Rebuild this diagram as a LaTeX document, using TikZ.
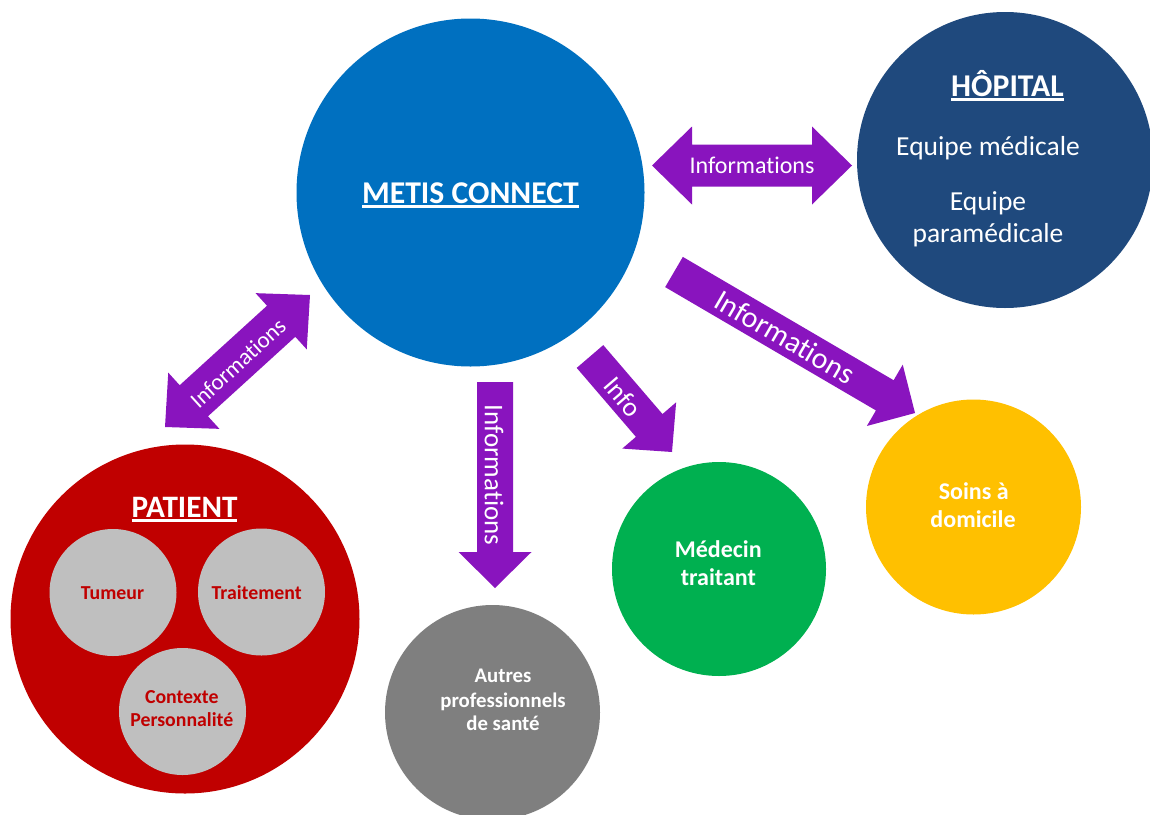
\documentclass[tikz,border=0pt]{standalone}
\usepackage{fontspec}
\setmainfont{Carlito}[Ligatures=NoCommon]
\usetikzlibrary{calc}
\definecolor{metisblue}{RGB}{0,112,192}
\definecolor{hopblue}{RGB}{31,73,125}
\definecolor{patred}{RGB}{192,0,0}
\definecolor{innergray}{RGB}{191,191,191}
\definecolor{autgray}{RGB}{127,127,127}
\definecolor{medgreen}{RGB}{0,176,80}
\definecolor{soinyellow}{RGB}{255,192,0}
\definecolor{arrowpurple}{RGB}{137,20,190}
\newcommand\fs[1]{\fontsize{#1}{#1}\selectfont}
% single block arrow: tail, tip, body half width, head half width, head length
\newcommand\singlearrow[5]{%
  \path ($(#2)!#5pt!(#1)$) coordinate (hb);
  \fill[arrowfill] ($(#1)!#3pt!90:(#2)$) -- ($(hb)!#3pt!90:(#2)$) -- ($(hb)!#4pt!90:(#2)$) -- (#2)
    -- ($(hb)!#4pt!-90:(#2)$) -- ($(hb)!#3pt!-90:(#2)$) -- ($(#1)!#3pt!-90:(#2)$) -- cycle;}
% double block arrow: tip A, tip B, body half width, head half width, head length
\newcommand\doublearrow[5]{%
  \path ($(#1)!#5pt!(#2)$) coordinate (ha) ($(#2)!#5pt!(#1)$) coordinate (hb);
  \fill[arrowfill] (#1) -- ($(ha)!#4pt!90:(#2)$) -- ($(ha)!#3pt!90:(#2)$) -- ($(hb)!#3pt!90:(#2)$)
    -- ($(hb)!#4pt!90:(#2)$) -- (#2) -- ($(hb)!#4pt!-90:(#2)$) -- ($(hb)!#3pt!-90:(#2)$)
    -- ($(ha)!#3pt!-90:(#2)$) -- ($(ha)!#4pt!-90:(#2)$) -- cycle;}
\begin{document}
\begin{tikzpicture}[x=1pt,y=1pt,
  arrowfill/.style={fill=arrowpurple},
  disc/.style={circle, inner sep=0pt, outer sep=0pt, minimum size=#1},
  lbl/.style={inner sep=0pt, outer sep=0pt, anchor=base, text=white},
  arrowlbl/.style={inner sep=0pt, outer sep=0pt, text=white},
  uline/.style={white, line width=2.4pt}]
\useasboundingbox (0,0) rectangle (1150,-814);
\clip (0,0) rectangle (1150,-814);
\fill[white] (0,0) rectangle (1150,-814);

% circles
\node[disc=348, fill=metisblue] (metis) at (470.5,-192.5) {};
\node[disc=296, fill=hopblue] (hopital) at (1005,-160) {};
\node[disc=349, fill=patred] (patient) at (185,-619) {};
\node[disc=127, fill=innergray] (tumeur) at (113,-592.5) {};
\node[disc=127, fill=innergray] (traitement) at (261.5,-592) {};
\node[disc=127, fill=innergray] (contexte) at (182.5,-711.5) {};
\node[disc=215, fill=autgray] (autres) at (492.5,-712.5) {};
\node[disc=214, fill=medgreen] (medecin) at (719,-569) {};
\node[disc=215, fill=soinyellow] (soins) at (973.5,-507) {};

% texts
\node[lbl, font=\bfseries\fs{31.7}] (metist) at (470.5,-203) {METIS CONNECT};
\draw[uline] ([yshift=-3.5pt]metist.base west) -- ([yshift=-3.5pt]metist.base east);
\node[lbl, font=\bfseries\fs{31.7}] (hopt) at (1007.5,-96) {HÔPITAL};
\draw[uline] ([yshift=-3.5pt]hopt.base west) -- ([yshift=-3.5pt]hopt.base east);
\node[lbl, font=\fs{27.5}] (hop1) at (988,-155) {Equipe médicale};
\node[lbl, font=\fs{27.5}] (hop2) at (988,-210) {Equipe};
\node[lbl, font=\fs{27.5}] (hop3) at (988,-242) {paramédicale};
\node[lbl, font=\bfseries\fs{31.2}] (patt) at (184.5,-517) {PATIENT};
\draw[uline] ([yshift=-3.5pt]patt.base west) -- ([yshift=-3.5pt]patt.base east);
\node[lbl, text=patred, font=\bfseries\fs{19.8}] (tumt) at (112.5,-599) {Tumeur};
\node[lbl, text=patred, font=\bfseries\fs{19.8}] (trat) at (256.7,-599) {Traitement};
\node[lbl, text=patred, font=\bfseries\fs{19.8}] (cont1) at (181.8,-703) {Contexte};
\node[lbl, text=patred, font=\bfseries\fs{19.8}] (cont2) at (181.8,-726) {Personnalité};
\node[lbl, font=\bfseries\fs{20.8}] (aut1) at (503,-682) {Autres};
\node[lbl, font=\bfseries\fs{20.8}] (aut2) at (503,-707) {professionnels};
\node[lbl, font=\bfseries\fs{20.8}] (aut3) at (503,-730) {de santé};
\node[lbl, font=\bfseries\fs{24}] (med1) at (718.3,-557) {Médecin};
\node[lbl, font=\bfseries\fs{24}] (med2) at (718.3,-585) {traitant};
\node[lbl, font=\bfseries\fs{24}] (soin1) at (973.7,-499) {Soins à};
\node[lbl, font=\bfseries\fs{24}] (soin2) at (973,-527) {domicile};

% block arrows
\coordinate (h1) at (652,-165.5);
\coordinate (h2) at (852,-165.5);
\doublearrow{h1}{h2}{21}{39}{40}
\node[arrowlbl, font=\fs{24}] (hlab) at ($(h1)!0.5!(h2)$) {Informations};

\coordinate (d1) at (165,-427);
\coordinate (d2) at (310,-295);
\doublearrow{d1}{d2}{21}{38}{39}
\node[arrowlbl, font=\fs{23}, rotate=42.3] (dlab) at (238,-363) {Informations};

\coordinate (v1) at (495,-382);
\coordinate (v2) at (495,-588);
\singlearrow{v1}{v2}{18}{36.5}{36}
\node[arrowlbl, font=\fs{27}, rotate=-90] (vlab) at (494,-475) {Informations};

\coordinate (i1) at (590,-356.5);
\coordinate (i2) at (672,-452);
\singlearrow{i1}{i2}{17.5}{35.5}{35}
\node[arrowlbl, font=\fs{27}, rotate=-49.3] (ilab) at (623,-397) {Info};

\coordinate (b1) at (674,-272);
\coordinate (b2) at (915,-413);
\singlearrow{b1}{b2}{17.5}{35.5}{35}
\node[arrowlbl, font=\fs{30}, rotate=-30.3] (blab) at (785,-337) {Informations};
\end{tikzpicture}
\end{document}
